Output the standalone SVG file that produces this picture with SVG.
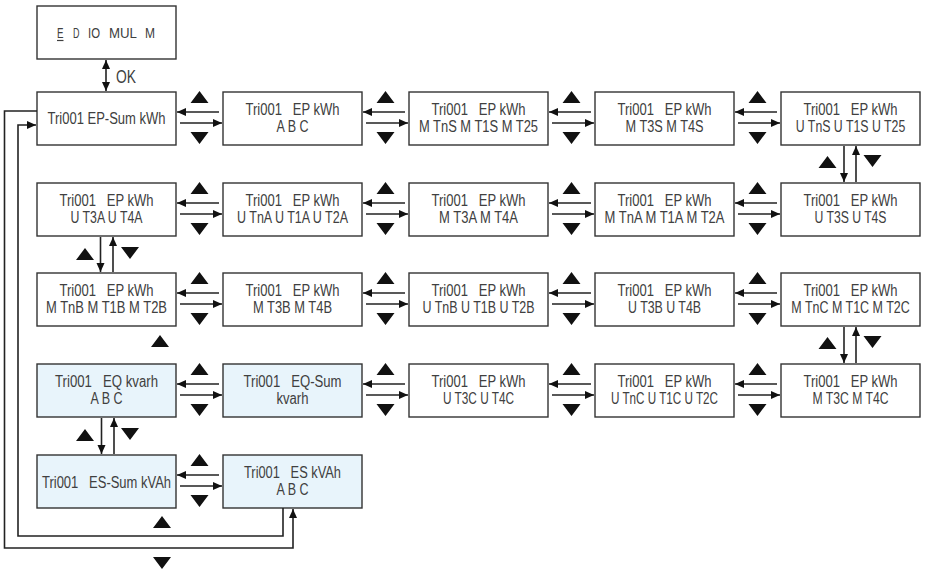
<svg xmlns="http://www.w3.org/2000/svg" width="925" height="570" viewBox="0 0 925 570">
<style>
.b{fill:#fff;stroke:#333;stroke-width:1.4}
.q{fill:#e8f4fb;stroke:#333;stroke-width:1.4}
text{font-family:"Liberation Sans",Arial,sans-serif;font-size:16px;fill:#404040;text-anchor:middle;white-space:pre}
.s{text-anchor:start;font-size:14px}
.c line,.c path{stroke:#222;stroke-width:1.6;fill:none}
.c path.t{fill:#111;stroke:none}
</style>
<defs>
<marker id="ah" markerUnits="userSpaceOnUse" markerWidth="10" markerHeight="10" refX="9" refY="5" orient="auto-start-reverse" viewBox="0 0 10 10"><path d="M0,1 L9,5 L0,9 Z" fill="#111"/></marker>
</defs>
<rect width="925" height="570" fill="#fff"/>
<g id="menu"><rect class="b" x="37" y="6" width="139" height="53"/>
<text class="s" x="57" y="38" textLength="6.5" lengthAdjust="spacingAndGlyphs">E</text>
<text class="s" x="73" y="38" textLength="6.5" lengthAdjust="spacingAndGlyphs">D</text>
<text class="s" x="88" y="38" textLength="12" lengthAdjust="spacingAndGlyphs">IO</text>
<text class="s" x="109" y="38" textLength="28" lengthAdjust="spacingAndGlyphs">MUL</text>
<text class="s" x="145" y="38" textLength="10" lengthAdjust="spacingAndGlyphs">M</text>
<line x1="57" y1="40.5" x2="63.5" y2="40.5" stroke="#404040" stroke-width="1.2"/></g>
<g id="r1b1"><rect class="b" x="37" y="92" width="139" height="53"/><text x="106.5" y="124" textLength="118" lengthAdjust="spacingAndGlyphs">Tri001 EP-Sum kWh</text></g>
<g id="r1b2"><rect class="b" x="223" y="92" width="139" height="53"/><text x="292.5" y="115" textLength="94" lengthAdjust="spacingAndGlyphs">Tri001   EP kWh</text><text x="292.5" y="132" textLength="32" lengthAdjust="spacingAndGlyphs">A B C</text></g>
<g id="r1b3"><rect class="b" x="409" y="92" width="139" height="53"/><text x="478.5" y="115" textLength="94" lengthAdjust="spacingAndGlyphs">Tri001   EP kWh</text><text x="478.5" y="132" textLength="119" lengthAdjust="spacingAndGlyphs">M TnS M T1S M T25</text></g>
<g id="r1b4"><rect class="b" x="595" y="92" width="139" height="53"/><text x="664.5" y="115" textLength="94" lengthAdjust="spacingAndGlyphs">Tri001   EP kWh</text><text x="664.5" y="132" textLength="78" lengthAdjust="spacingAndGlyphs">M T3S M T4S</text></g>
<g id="r1b5"><rect class="b" x="781" y="92" width="139" height="53"/><text x="850.5" y="115" textLength="94" lengthAdjust="spacingAndGlyphs">Tri001   EP kWh</text><text x="0" y="132" transform="translate(850.5 0) scale(0.77 1)">U TnS U T1S U T25</text></g>
<g id="r2b1"><rect class="b" x="37" y="183" width="139" height="53"/><text x="106.5" y="206" textLength="94" lengthAdjust="spacingAndGlyphs">Tri001   EP kWh</text><text x="106.5" y="223" textLength="72" lengthAdjust="spacingAndGlyphs">U T3A U T4A</text></g>
<g id="r2b2"><rect class="b" x="223" y="183" width="139" height="53"/><text x="292.5" y="206" textLength="94" lengthAdjust="spacingAndGlyphs">Tri001   EP kWh</text><text x="292.5" y="223" textLength="111" lengthAdjust="spacingAndGlyphs">U TnA U T1A U T2A</text></g>
<g id="r2b3"><rect class="b" x="409" y="183" width="139" height="53"/><text x="478.5" y="206" textLength="94" lengthAdjust="spacingAndGlyphs">Tri001   EP kWh</text><text x="478.5" y="223" textLength="79" lengthAdjust="spacingAndGlyphs">M T3A M T4A</text></g>
<g id="r2b4"><rect class="b" x="595" y="183" width="139" height="53"/><text x="664.5" y="206" textLength="94" lengthAdjust="spacingAndGlyphs">Tri001   EP kWh</text><text x="664.5" y="223" textLength="120" lengthAdjust="spacingAndGlyphs">M TnA M T1A M T2A</text></g>
<g id="r2b5"><rect class="b" x="781" y="183" width="139" height="53"/><text x="850.5" y="206" textLength="94" lengthAdjust="spacingAndGlyphs">Tri001   EP kWh</text><text x="850.5" y="223" textLength="72" lengthAdjust="spacingAndGlyphs">U T3S U T4S</text></g>
<g id="r3b1"><rect class="b" x="37" y="273" width="139" height="53"/><text x="106.5" y="296" textLength="94" lengthAdjust="spacingAndGlyphs">Tri001   EP kWh</text><text x="106.5" y="313" textLength="121" lengthAdjust="spacingAndGlyphs">M TnB M T1B M T2B</text></g>
<g id="r3b2"><rect class="b" x="223" y="273" width="139" height="53"/><text x="292.5" y="296" textLength="94" lengthAdjust="spacingAndGlyphs">Tri001   EP kWh</text><text x="292.5" y="313" textLength="79" lengthAdjust="spacingAndGlyphs">M T3B M T4B</text></g>
<g id="r3b3"><rect class="b" x="409" y="273" width="139" height="53"/><text x="478.5" y="296" textLength="94" lengthAdjust="spacingAndGlyphs">Tri001   EP kWh</text><text x="478.5" y="313" textLength="112" lengthAdjust="spacingAndGlyphs">U TnB U T1B U T2B</text></g>
<g id="r3b4"><rect class="b" x="595" y="273" width="139" height="53"/><text x="664.5" y="296" textLength="94" lengthAdjust="spacingAndGlyphs">Tri001   EP kWh</text><text x="664.5" y="313" textLength="73" lengthAdjust="spacingAndGlyphs">U T3B U T4B</text></g>
<g id="r3b5"><rect class="b" x="781" y="273" width="139" height="53"/><text x="850.5" y="296" textLength="94" lengthAdjust="spacingAndGlyphs">Tri001   EP kWh</text><text x="0" y="313" transform="translate(850.5 0) scale(0.78 1)">M TnC M T1C M T2C</text></g>
<g id="r4b1"><rect class="q" x="37" y="364" width="139" height="53"/><text x="106.5" y="387" textLength="103" lengthAdjust="spacingAndGlyphs">Tri001   EQ kvarh</text><text x="106.5" y="404" textLength="32" lengthAdjust="spacingAndGlyphs">A B C</text></g>
<g id="r4b2"><rect class="q" x="223" y="364" width="139" height="53"/><text x="292.5" y="387" textLength="98" lengthAdjust="spacingAndGlyphs">Tri001   EQ-Sum</text><text x="292.5" y="404" textLength="32" lengthAdjust="spacingAndGlyphs">kvarh</text></g>
<g id="r4b3"><rect class="b" x="409" y="364" width="139" height="53"/><text x="478.5" y="387" textLength="94" lengthAdjust="spacingAndGlyphs">Tri001   EP kWh</text><text x="478.5" y="404" textLength="71" lengthAdjust="spacingAndGlyphs">U T3C U T4C</text></g>
<g id="r4b4"><rect class="b" x="595" y="364" width="139" height="53"/><text x="664.5" y="387" textLength="94" lengthAdjust="spacingAndGlyphs">Tri001   EP kWh</text><text x="664.5" y="404" textLength="107" lengthAdjust="spacingAndGlyphs">U TnC U T1C U T2C</text></g>
<g id="r4b5"><rect class="b" x="781" y="364" width="139" height="53"/><text x="850.5" y="387" textLength="94" lengthAdjust="spacingAndGlyphs">Tri001   EP kWh</text><text x="850.5" y="404" textLength="76" lengthAdjust="spacingAndGlyphs">M T3C M T4C</text></g>
<g id="r5b1"><rect class="q" x="37" y="455" width="139" height="53"/><text x="106.5" y="488" textLength="129" lengthAdjust="spacingAndGlyphs">Tri001   ES-Sum kVAh</text></g>
<g id="r5b2"><rect class="q" x="223" y="455" width="139" height="53"/><text x="292.5" y="478" textLength="97" lengthAdjust="spacingAndGlyphs">Tri001   ES kVAh</text><text x="292.5" y="495" textLength="32" lengthAdjust="spacingAndGlyphs">A B C</text></g>
<g id="connectors" class="c">
<line x1="106" y1="60" x2="106" y2="91" marker-start="url(#ah)" marker-end="url(#ah)"/>
<text x="116" y="83" style="text-anchor:start;font-size:19px" textLength="20" lengthAdjust="spacingAndGlyphs">OK</text>
<g id="h1">
<line x1="219" y1="112" x2="177" y2="112" marker-end="url(#ah)"/><line x1="180" y1="123" x2="222" y2="123" marker-end="url(#ah)"/>
<line x1="405" y1="112" x2="363" y2="112" marker-end="url(#ah)"/><line x1="366" y1="123" x2="408" y2="123" marker-end="url(#ah)"/>
<line x1="591" y1="112" x2="549" y2="112" marker-end="url(#ah)"/><line x1="552" y1="123" x2="594" y2="123" marker-end="url(#ah)"/>
<line x1="777" y1="112" x2="735" y2="112" marker-end="url(#ah)"/><line x1="738" y1="123" x2="780" y2="123" marker-end="url(#ah)"/>
</g>
<g id="h2">
<line x1="219" y1="203" x2="177" y2="203" marker-end="url(#ah)"/><line x1="180" y1="214" x2="222" y2="214" marker-end="url(#ah)"/>
<line x1="405" y1="203" x2="363" y2="203" marker-end="url(#ah)"/><line x1="366" y1="214" x2="408" y2="214" marker-end="url(#ah)"/>
<line x1="591" y1="203" x2="549" y2="203" marker-end="url(#ah)"/><line x1="552" y1="214" x2="594" y2="214" marker-end="url(#ah)"/>
<line x1="777" y1="203" x2="735" y2="203" marker-end="url(#ah)"/><line x1="738" y1="214" x2="780" y2="214" marker-end="url(#ah)"/>
</g>
<g id="h3">
<line x1="219" y1="293" x2="177" y2="293" marker-end="url(#ah)"/><line x1="180" y1="304" x2="222" y2="304" marker-end="url(#ah)"/>
<line x1="405" y1="293" x2="363" y2="293" marker-end="url(#ah)"/><line x1="366" y1="304" x2="408" y2="304" marker-end="url(#ah)"/>
<line x1="591" y1="293" x2="549" y2="293" marker-end="url(#ah)"/><line x1="552" y1="304" x2="594" y2="304" marker-end="url(#ah)"/>
<line x1="777" y1="293" x2="735" y2="293" marker-end="url(#ah)"/><line x1="738" y1="304" x2="780" y2="304" marker-end="url(#ah)"/>
</g>
<g id="h4">
<line x1="219" y1="384" x2="177" y2="384" marker-end="url(#ah)"/><line x1="180" y1="395" x2="222" y2="395" marker-end="url(#ah)"/>
<line x1="405" y1="384" x2="363" y2="384" marker-end="url(#ah)"/><line x1="366" y1="395" x2="408" y2="395" marker-end="url(#ah)"/>
<line x1="591" y1="384" x2="549" y2="384" marker-end="url(#ah)"/><line x1="552" y1="395" x2="594" y2="395" marker-end="url(#ah)"/>
<line x1="777" y1="384" x2="735" y2="384" marker-end="url(#ah)"/><line x1="738" y1="395" x2="780" y2="395" marker-end="url(#ah)"/>
</g>
<g id="h5">
<line x1="219" y1="475" x2="177" y2="475" marker-end="url(#ah)"/><line x1="180" y1="486" x2="222" y2="486" marker-end="url(#ah)"/>
</g>
<line x1="844" y1="146" x2="844" y2="182" marker-end="url(#ah)"/><line x1="856" y1="182" x2="856" y2="146" marker-end="url(#ah)"/>
<line x1="100.5" y1="237" x2="100.5" y2="272" marker-end="url(#ah)"/><line x1="113" y1="272" x2="113" y2="237" marker-end="url(#ah)"/>
<line x1="844" y1="327" x2="844" y2="363" marker-end="url(#ah)"/><line x1="856" y1="363" x2="856" y2="327" marker-end="url(#ah)"/>
<line x1="101.5" y1="418" x2="101.5" y2="454" marker-end="url(#ah)"/><line x1="114" y1="454" x2="114" y2="418" marker-end="url(#ah)"/>
<path d="M37,111 H4.5 V548 H293 V509" marker-end="url(#ah)"/>
<path d="M283,508 V536 H18 V125 H36" marker-end="url(#ah)"/>
<path class="t" d="M190.5,103 h18 l-9,-12 z M190.5,132 h18 l-9,12 z M376.5,103 h18 l-9,-12 z M376.5,132 h18 l-9,12 z M562.5,103 h18 l-9,-12 z M562.5,132 h18 l-9,12 z M748.5,103 h18 l-9,-12 z M748.5,132 h18 l-9,12 z"/>
<path class="t" d="M190.5,194 h18 l-9,-12 z M190.5,223 h18 l-9,12 z M376.5,194 h18 l-9,-12 z M376.5,223 h18 l-9,12 z M562.5,194 h18 l-9,-12 z M562.5,223 h18 l-9,12 z M748.5,194 h18 l-9,-12 z M748.5,223 h18 l-9,12 z"/>
<path class="t" d="M190.5,284 h18 l-9,-12 z M190.5,313 h18 l-9,12 z M376.5,284 h18 l-9,-12 z M376.5,313 h18 l-9,12 z M562.5,284 h18 l-9,-12 z M562.5,313 h18 l-9,12 z M748.5,284 h18 l-9,-12 z M748.5,313 h18 l-9,12 z"/>
<path class="t" d="M190.5,375 h18 l-9,-12 z M190.5,404 h18 l-9,12 z M376.5,375 h18 l-9,-12 z M376.5,404 h18 l-9,12 z M562.5,375 h18 l-9,-12 z M562.5,404 h18 l-9,12 z M748.5,375 h18 l-9,-12 z M748.5,404 h18 l-9,12 z"/>
<path class="t" d="M190.5,466 h18 l-9,-12 z M190.5,495 h18 l-9,12 z"/>
<path class="t" d="M818.5,168 h18 l-9,-12 z M863.5,155 h18 l-9,12 z M818.5,349 h18 l-9,-12 z M863.5,336 h18 l-9,12 z"/>
<path class="t" d="M76,260 h18 l-9,-12 z M121,247 h18 l-9,12 z M76,441 h18 l-9,-12 z M121,428 h18 l-9,12 z"/>
<path class="t" d="M151,347 h18 l-9,-12 z M153,528 h18 l-9,-12 z M153,557 h18 l-9,12 z"/>
</g>
</svg>
